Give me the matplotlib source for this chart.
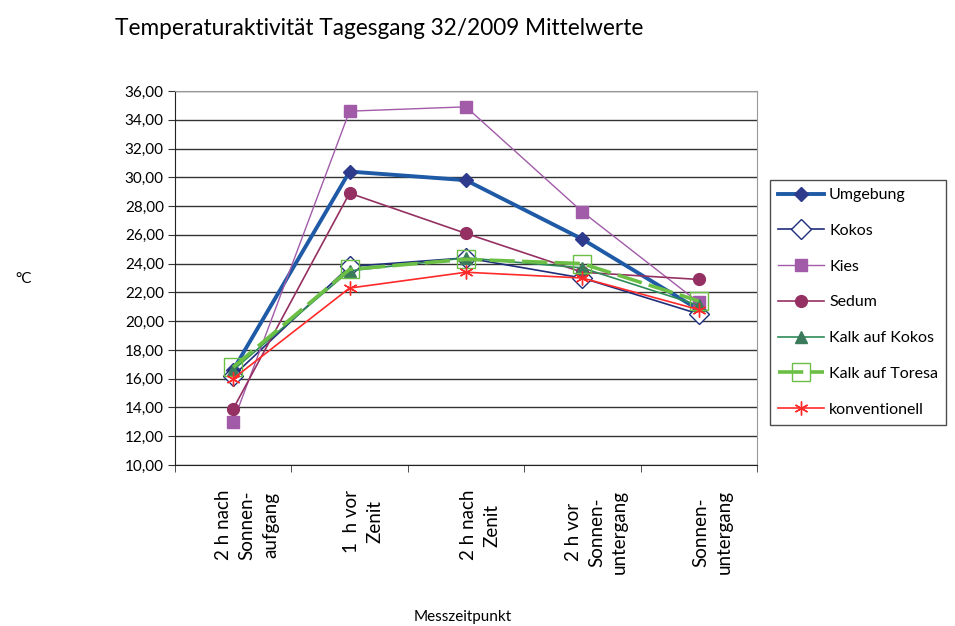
import matplotlib
matplotlib.use("Agg")
import matplotlib.pyplot as plt
import matplotlib.transforms as mtransforms
from matplotlib.ticker import FuncFormatter

plt.rcParams['font.family'] = ['Lato', 'DejaVu Sans']

# categories (Messzeitpunkt)
categories = ["2 h nach\nSonnen-\naufgang", "1  h vor\nZenit", "2 h nach\nZenit",
              "2 h vor\nSonnen-\nuntergang", "Sonnen-\nuntergang"]

# mean temperatures per series
umgebung = [16.6, 30.4, 29.8, 25.7, 20.8]
kokos = [16.2, 23.8, 24.4, 23.0, 20.5]
kies = [13.0, 34.6, 34.9, 27.6, 21.3]
sedum = [13.9, 28.9, 26.1, 23.4, 22.9]
kalk_kokos = [16.6, 23.5, 24.4, 23.7, 21.1]
kalk_toresa = [16.8, 23.6, 24.3, 24.0, 21.4]
konventionell = [16.0, 22.3, 23.4, 23.0, 20.8]

fig = plt.figure(figsize=(9.55, 6.26), dpi=100)
ax = fig.add_axes([0.1832, 0.2572, 0.6094, 0.5974])

x = list(range(len(categories)))

ax.plot(x, umgebung, color='#1F5AA6', lw=2.8, marker='D', ms=7,
        mfc='#2E3A8C', mec='#2E3A8C', label='Umgebung')
ax.plot(x, kokos, color='#1F2E7A', lw=1.2, marker='D', ms=10,
        mfc='white', mec='#1F2E7A', mew=1.0, label='Kokos')
ax.plot(x, kies, color='#A15BA8', lw=1.0, marker='s', ms=8.5,
        mfc='#A15BA8', mec='#A15BA8', label='Kies')
ax.plot(x, sedum, color='#943162', lw=1.2, marker='o', ms=8.5,
        mfc='#943162', mec='#943162', label='Sedum')
ax.plot(x, kalk_kokos, color='#2E8B57', lw=1.2, marker='^', ms=8.5,
        mfc='#3C7A5C', mec='#3C7A5C', label='Kalk auf Kokos')
ax.plot(x, kalk_toresa, color='#6CBF45', lw=2.6, dashes=(7, 2), marker='s', ms=13,
        mfc='none', mec='#6CBF45', mew=1.0, label='Kalk auf Toresa')
ax.plot(x, konventionell, color='#FF2A2A', lw=1.2, marker=(6, 2, 0), ms=10,
        mec='#FF2A2A', mew=1.0, label='konventionell')

ax.set_xlim(-0.5, 4.5)
ax.set_ylim(10, 36)
ax.set_yticks(range(10, 37, 2))
ax.yaxis.set_major_formatter(FuncFormatter(lambda v, p: f"{v:.2f}".replace('.', ',')))
ax.yaxis.grid(True, color='#333333', lw=1.0)
ax.set_axisbelow(True)

ax.set_xticks(x)
ax.set_xticklabels(categories, rotation=90, ha='center', va='top',
                   multialignment='center', fontsize=13.5, linespacing=1.45)
ax.tick_params(axis='x', which='major', length=0, pad=18)
ax.set_xticks([i - 0.5 for i in range(len(categories) + 1)], minor=True)
ax.tick_params(axis='x', which='minor', length=5, color='#333333', direction='out')
ax.tick_params(axis='y', length=5, color='#333333', labelsize=11, pad=3)

# labels sit a bit right of the category centre, like in the original
shift = mtransforms.ScaledTranslation(0.14, 0, fig.dpi_scale_trans)
for lbl in ax.get_xticklabels():
    lbl.set_transform(lbl.get_transform() + shift)

for side in ['top', 'right']:
    ax.spines[side].set_color('#999999')
ax.spines['left'].set_color('#222222')
ax.spines['bottom'].set_color('#222222')

fig.text(0.12, 0.955, "Temperaturaktivität Tagesgang 32/2009 Mittelwerte",
         fontsize=16.3, ha='left', va='center')
fig.text(0.025, 0.555, "°C", fontsize=11, ha='center', va='center')
fig.text(0.484, 0.014, "Messzeitpunkt", fontsize=11, ha='center', va='center')

leg = ax.legend(loc='upper left', bbox_to_anchor=(770 / 955, 1 - 180 / 626),
                bbox_transform=fig.transFigure, fontsize=11.5, frameon=True,
                fancybox=False, edgecolor='#222222', handlelength=2.9,
                labelspacing=1.35, borderpad=0.5, handletextpad=0.3,
                borderaxespad=0)
leg.get_frame().set_linewidth(1.0)

fig.savefig("out.png", dpi=100)
